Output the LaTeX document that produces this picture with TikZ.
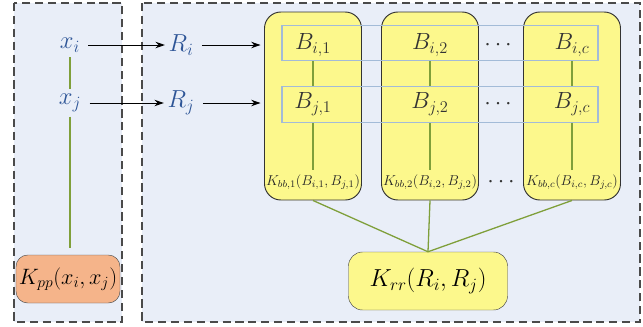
\documentclass[tikz,border=0pt]{standalone}
\usepackage{fix-cm}
\usepackage{amsmath}
\usetikzlibrary{arrows.meta, positioning}

\definecolor{panelfill}{HTML}{E9EEF8}
\definecolor{dashgray}{HTML}{4A4A4A}
\definecolor{kyellow}{HTML}{FCF88C}
\definecolor{korange}{HTML}{F5B48A}
\definecolor{linkgreen}{HTML}{7F9F3A}
\definecolor{rowblue}{HTML}{A3BBD8}
\definecolor{varblue}{HTML}{2E5597}

\begin{document}
\begin{tikzpicture}[
    x=0.03cm, y=-0.03cm,
    panel/.style = {draw=dashgray, fill=panelfill, dashed, dash pattern=on 7pt off 4pt, line width=0.9pt},
    var/.style = {text=varblue, inner sep=1pt, font=\fontsize{21}{24}\selectfont},
    blabel/.style = {text=black!80, inner sep=1pt, font=\fontsize{20}{24}\selectfont},
    klabel/.style = {text=black!85, inner sep=0pt, font=\fontsize{12.2}{14}\selectfont},
    bbox/.style = {rectangle, draw=black!80, fill=kyellow, rounded corners=14pt, line width=0.8pt, minimum width=2.91cm, minimum height=5.64cm},
    rowbox/.style = {rectangle, draw=rowblue, line width=1pt, minimum width=9.48cm, minimum height=1.07cm},
    kpp/.style = {rectangle, draw=black!70, fill=korange, rounded corners=10pt, minimum width=3.12cm, minimum height=1.44cm, inner sep=1pt, font=\fontsize{19}{22}\selectfont},
    krr/.style = {rectangle, draw=black!70, fill=kyellow, rounded corners=12pt, minimum width=4.77cm, minimum height=1.74cm, font=\fontsize{21}{24}\selectfont},
    link/.style = {draw=linkgreen, line width=1.1pt},
    arrow/.style = {->, line width=0.8pt},
    >={Stealth[length=8pt, width=5.5pt]}]

    \useasboundingbox (0,0) rectangle (643,326);
    \path[panel] (14,3) rectangle (122,322);
    \path[panel] (142,3) rectangle (640,322);

    % left side
    \node[var] (xi) at (70,45) {$x_i$};
    \node[var] (xj) at (70,103) {$x_j$};
    \node[kpp] (kpp) at (68,279) {$K_{pp}(x_i,x_j)$};
    \draw[link, shorten <=3pt, shorten >=3pt] (xi.south) -- (xi.south |- xj.north);
    \draw[link, shorten <=3pt, shorten >=6pt] (xi.south |- xj.south) -- (xi.south |- kpp.north);

    % right side
    \node[var] (Ri) at (181,45) {$R_i$};
    \node[var] (Rj) at (181,103) {$R_j$};

    \node[bbox] (box1) at (313,106) {};
    \node[bbox] (box2) at (430,106) {};
    \node[bbox] (box3) at (572,106) {};

    \node[rowbox] (rowi) at (440,43) {};
    \node[rowbox] (rowj) at (440,104.5) {};

    \node[blabel] (Bi1) at (313,45) {$B_{i,1}$};
    \node[blabel] (Bi2) at (430,45) {$B_{i,2}$};
    \node[blabel] (Bic) at (572,45) {$B_{i,c}$};
    \node[blabel] (Bj1) at (313,104) {$B_{j,1}$};
    \node[blabel] (Bj2) at (430,104) {$B_{j,2}$};
    \node[blabel] (Bjc) at (572,104) {$B_{j,c}$};
    \node[blabel] (dotsi) at (500,45) {$\cdots$};
    \node[blabel] (dotsj) at (500,104) {$\cdots$};

    \node[klabel] (Kbb1) at (313,182) {$K_{bb,1}(B_{i,1},B_{j,1})$};
    \node[klabel] (Kbb2) at (430,182) {$K_{bb,2}(B_{i,2},B_{j,2})$};
    \node[klabel] (Kbbc) at (572,182) {$K_{bb,c}(B_{i,c},B_{j,c})$};
    \node[blabel] (dotsk) at (503,182) {$\cdots$};

    \node[krr] (krr) at (428,281) {$K_{rr}(R_i,R_j)$};

    \draw[arrow, shorten <=6pt, shorten >=2pt] (xi) -- (Ri);
    \draw[arrow, shorten <=6pt, shorten >=2pt] (xj) -- (Rj);
    \draw[arrow, shorten <=6pt, shorten >=3pt] (Ri) -- (Ri -| box1.west);
    \draw[arrow, shorten <=6pt, shorten >=3pt] (Rj) -- (Rj -| box1.west);

    \foreach \i/\j/\k in {Bi1/Bj1/Kbb1, Bi2/Bj2/Kbb2, Bic/Bjc/Kbbc} {
        \draw[link] (\i |- rowi.south) -- (\j |- rowj.north);
        \draw[link, shorten >=4pt] (\j |- rowj.south) -- (\k);
    }

    \draw[link] (box1.south) -- (krr.north);
    \draw[link] (box2.south) -- (krr.north);
    \draw[link] (box3.south) -- (krr.north);
    
\end{tikzpicture}
\end{document}
